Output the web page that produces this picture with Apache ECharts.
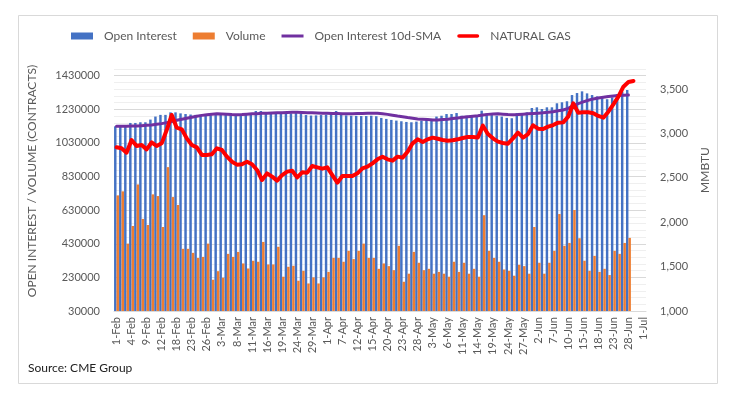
<!DOCTYPE html>
<html>
<head>
<meta charset="utf-8">
<script src="https://cdn.jsdelivr.net/npm/echarts@6.0.0/dist/echarts.min.js"></script>
<style>
    html, body { margin: 0; padding: 0; background: #ffffff; }
    #chart { width: 740px; height: 399px; }
</style>
</head>
<body>
<div id="chart"></div>
<script>
// one entry per bar slot, a label is shown on every third one
var dates = [
    '1-Feb', '2-Feb', '3-Feb', '4-Feb', '6-Feb', '7-Feb', '9-Feb', '10-Feb', '11-Feb', '12-Feb',
    '14-Feb', '16-Feb', '18-Feb', '20-Feb', '21-Feb', '23-Feb', '24-Feb', '25-Feb', '26-Feb', '28-Feb',
    '1-Mar', '3-Mar', '4-Mar', '7-Mar', '8-Mar', '9-Mar', '10-Mar', '11-Mar', '14-Mar', '15-Mar',
    '16-Mar', '17-Mar', '18-Mar', '19-Mar', '21-Mar', '22-Mar', '24-Mar', '25-Mar', '28-Mar', '29-Mar',
    '30-Mar', '31-Mar', '1-Apr', '4-Apr', '5-Apr', '7-Apr', '8-Apr', '11-Apr', '12-Apr', '13-Apr',
    '14-Apr', '15-Apr', '18-Apr', '19-Apr', '20-Apr', '21-Apr', '22-Apr', '23-Apr', '25-Apr', '26-Apr',
    '28-Apr', '29-Apr', '2-May', '3-May', '4-May', '5-May', '6-May', '9-May', '10-May', '11-May',
    '12-May', '13-May', '14-May', '16-May', '17-May', '19-May', '20-May', '23-May', '24-May', '25-May',
    '26-May', '27-May', '31-May', '1-Jun', '2-Jun', '3-Jun', '6-Jun', '7-Jun', '8-Jun', '9-Jun',
    '10-Jun', '13-Jun', '14-Jun', '15-Jun', '16-Jun', '17-Jun', '18-Jun', '21-Jun', '22-Jun', '23-Jun',
    '24-Jun', '27-Jun', '28-Jun', '29-Jun', '30-Jun', '1-Jul'
];

// contracts
var openInterest = [
    1129000, 1129000, 1129000, 1149000, 1149000, 1153000, 1153000, 1169000, 1187000, 1197000,
    1197000, 1212000, 1212000, 1206000, 1202000, 1199000, 1197000, 1197000, 1196000, 1195000,
    1196000, 1197000, 1196000, 1195000, 1196000, 1194000, 1196000, 1200000, 1220000, 1220000,
    1202000, 1204000, 1206000, 1207000, 1207000, 1206000, 1208000, 1206000, 1196000, 1193000,
    1194000, 1196000, 1198000, 1202000, 1220000, 1198000, 1194000, 1192000, 1191000, 1190000,
    1190000, 1192000, 1189000, 1179000, 1173000, 1167000, 1163000, 1159000, 1155000, 1153000,
    1157000, 1163000, 1167000, 1173000, 1187000, 1192000, 1202000, 1202000, 1208000, 1192000,
    1192000, 1192000, 1196000, 1222000, 1206000, 1196000, 1192000, 1187000, 1179000, 1177000,
    1208000, 1208000, 1212000, 1238000, 1242000, 1232000, 1242000, 1242000, 1266000, 1272000,
    1278000, 1315000, 1327000, 1337000, 1325000, 1315000, 1307000, 1305000, 1290000, 1301000,
    1321000, 1335000, 1345000
];

var volume = [
    718000, 742000, 431000, 536000, 783000, 578000, 542000, 724000, 714000, 530000,
    886000, 708000, 661000, 400000, 400000, 376000, 346000, 352000, 431000, 216000,
    267000, 228000, 370000, 352000, 382000, 313000, 283000, 329000, 323000, 441000,
    307000, 307000, 412000, 234000, 293000, 299000, 210000, 269000, 194000, 230000,
    194000, 230000, 263000, 346000, 346000, 323000, 388000, 339000, 388000, 431000,
    346000, 346000, 281000, 313000, 297000, 273000, 418000, 204000, 252000, 382000,
    317000, 273000, 281000, 252000, 263000, 252000, 234000, 323000, 263000, 317000,
    252000, 281000, 234000, 600000, 388000, 346000, 323000, 277000, 269000, 240000,
    305000, 297000, 252000, 530000, 317000, 252000, 317000, 388000, 607000, 418000,
    435000, 631000, 463000, 329000, 269000, 358000, 263000, 281000, 244000, 388000,
    370000, 435000, 465000
];

var openInterestSma = [
    1129000, 1129000, 1129000, 1131000, 1131000, 1133000, 1135000, 1137000, 1141000, 1145000,
    1151000, 1157000, 1165000, 1171000, 1177000, 1183000, 1189000, 1194000, 1198000, 1201000,
    1203000, 1202000, 1201000, 1199000, 1198000, 1199000, 1201000, 1203000, 1204000, 1206000,
    1207000, 1208000, 1209000, 1210000, 1211000, 1212000, 1212000, 1211000, 1210000, 1209000,
    1208000, 1207000, 1206000, 1205000, 1205000, 1204000, 1204000, 1204000, 1205000, 1205000,
    1206000, 1206000, 1206000, 1204000, 1200000, 1195000, 1190000, 1186000, 1181000, 1177000,
    1173000, 1171000, 1169000, 1167000, 1167000, 1169000, 1171000, 1175000, 1179000, 1183000,
    1186000, 1189000, 1192000, 1196000, 1200000, 1202000, 1203000, 1201000, 1199000, 1198000,
    1199000, 1201000, 1203000, 1205000, 1207000, 1209000, 1212000, 1216000, 1222000, 1226000,
    1236000, 1252000, 1264000, 1274000, 1284000, 1292000, 1298000, 1302000, 1306000, 1309000,
    1312000, 1314000, 1315000
];

// natural gas, right axis
var naturalGas = [
    2843, 2832, 2783, 2925, 2858, 2869, 2820, 2899, 2858, 2888,
    3038, 3207, 3064, 3046, 2944, 2869, 2843, 2757, 2757, 2764,
    2832, 2813, 2738, 2681, 2648, 2652, 2681, 2652, 2588, 2475,
    2550, 2513, 2468, 2531, 2569, 2580, 2505, 2561, 2558, 2633,
    2618, 2603, 2618, 2531, 2445, 2520, 2520, 2520, 2550, 2606,
    2625, 2663, 2708, 2738, 2708, 2693, 2738, 2727, 2794, 2888,
    2933, 2903, 2933, 2952, 2940, 2926, 2918, 2922, 2933, 2948,
    2959, 2959, 2955, 3087, 2993, 2944, 2907, 2892, 2884, 2944,
    3008, 2952, 2993, 3091, 3053, 3049, 3076, 3094, 3121, 3124,
    3188, 3338, 3233, 3237, 3237, 3226, 3196, 3177, 3244, 3327,
    3413, 3526, 3579, 3590
];

var leftMin = 30000;
var leftMax = 1470000;
var leftStep = 200000;

var textColor = '#595959';
var fontName = 'Lato, "Open Sans", sans-serif';

var chartDom = echarts.init(document.getElementById('chart'), null, { renderer: 'canvas' });

var chartOptions = {
    backgroundColor: '#ffffff',
    animation: false,
    textStyle: { fontFamily: fontName },
    legend: {
        left: 71,
        top: 30,
        padding: 0,
        itemWidth: 22,
        itemHeight: 7,
        itemGap: 16,
        symbolKeepAspect: true,
        textStyle: { color: textColor, fontSize: 12, fontFamily: fontName, padding: [0, 0, 0, 6] },
        data: [
            { name: 'Open Interest', icon: 'rect' },
            { name: 'Volume', icon: 'rect' },
            // plain strokes, no marker, like the reference
            { name: 'Open Interest 10d-SMA', icon: 'path://M0,0 L22,0 L22,3 L0,3 Z' },
            { name: 'NATURAL GAS', icon: 'path://M2,0 L22,0 A2,2 0 0 1 22,4 L2,4 A2,2 0 0 1 2,0 Z' }
        ]
    },
    grid: {
        left: 114,
        right: 94,
        top: 69,
        bottom: 88
    },
    xAxis: [
        {
            type: 'category',
            data: dates,
            boundaryGap: true,
            axisLine: { lineStyle: { color: '#d9d9d9' } },
            axisTick: { interval: 0, length: 4, lineStyle: { color: '#d9d9d9' } },
            axisLabel: {
                interval: 2,
                rotate: 90,
                margin: 6,
                color: textColor,
                fontSize: 11,
                fontFamily: fontName
            }
        }
    ],
    yAxis: [
        {
            type: 'value',
            min: leftMin,
            max: leftMax,
            interval: 40000,
            name: 'OPEN INTEREST / VOLUME (CONTRACTS)',
            nameLocation: 'middle',
            nameRotate: 90,
            nameGap: 76,
            nameTextStyle: { color: textColor, fontSize: 12, fontFamily: fontName, padding: [0, 0, 0, 18] },
            axisLine: { show: false },
            axisTick: { show: false },
            axisLabel: {
                margin: 14,
                color: textColor,
                fontSize: 11,
                fontFamily: fontName,
                formatter: function (v) {
                    return (v - leftMin) % leftStep === 0 ? String(v) : '';
                }
            },
            splitLine: {
                show: true,
                // major line every 200000, light minor lines between
                lineStyle: { color: ['#d9d9d9', '#efefef', '#efefef', '#efefef', '#efefef'], width: 1 }
            }
        },
        {
            type: 'value',
            min: 1000,
            max: 3725,
            interval: 500,
            name: 'MMBTU',
            nameLocation: 'middle',
            nameRotate: 90,
            nameGap: 51,
            nameTextStyle: { color: textColor, fontSize: 12, fontFamily: fontName, padding: [0, 0, 0, 40] },
            axisLine: { show: false },
            axisTick: { show: false },
            splitLine: { show: false },
            axisLabel: {
                margin: 14,
                showMaxLabel: false,
                color: textColor,
                fontSize: 11,
                fontFamily: fontName,
                formatter: function (v) {
                    return v.toLocaleString('en-US');
                }
            }
        }
    ],
    series: [
        {
            name: 'Open Interest',
            type: 'bar',
            yAxisIndex: 0,
            data: openInterest,
            barGap: '0%',
            barCategoryGap: '2%',
            itemStyle: { color: '#4472C4' }
        },
        {
            name: 'Volume',
            type: 'bar',
            yAxisIndex: 0,
            data: volume,
            itemStyle: { color: '#ED7D31' }
        },
        {
            name: 'Open Interest 10d-SMA',
            type: 'line',
            yAxisIndex: 0,
            data: openInterestSma,
            symbol: 'none',
            z: 3,
            lineStyle: { color: '#7030A0', width: 3, cap: 'round', join: 'round' },
            itemStyle: { color: '#7030A0' }
        },
        {
            name: 'NATURAL GAS',
            type: 'line',
            yAxisIndex: 1,
            data: naturalGas,
            symbol: 'none',
            z: 4,
            lineStyle: { color: '#FF0000', width: 4, cap: 'round', join: 'round' },
            itemStyle: { color: '#FF0000' }
        }
    ],
    graphic: [
        {
            type: 'rect',
            silent: true,
            shape: { x: 18.5, y: 15.5, width: 699, height: 368 },
            style: { fill: 'none', stroke: '#d9d9d9', lineWidth: 1 }
        },
        {
            type: 'text',
            silent: true,
            left: 28,
            top: 362,
            style: { text: 'Source: CME Group', fill: '#222222', fontSize: 12, fontFamily: fontName }
        }
    ]
};

chartDom.setOption(chartOptions, true);
window.onresize = function () {
    chartDom.resize();
};
</script>
</body>
</html>
